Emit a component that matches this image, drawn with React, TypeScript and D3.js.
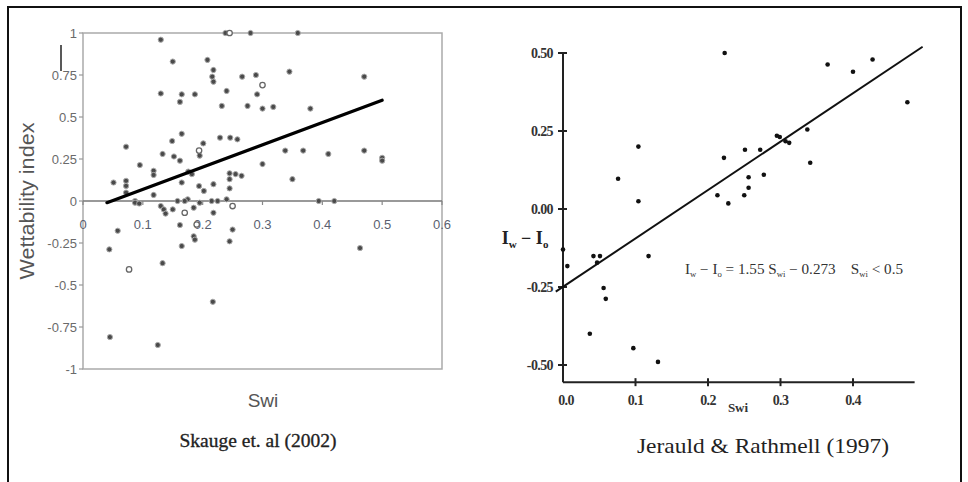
import React from "react";
import * as d3 from "d3";

// ---------- Left chart data (Skauge et al. 2002) ----------
const leftFilledSwi = [0.13,0.238,0.28,0.359,0.15,0.208,0.218,0.216,0.218,0.266,0.289,0.345,0.47,0.13,0.165,0.162,0.187,0.24,0.232,0.291,0.275,0.30,0.318,0.38,0.165,0.149,0.229,0.246,0.258,0.072,0.201,0.338,0.368,0.47,0.41,0.50,0.50,0.133,0.195,0.152,0.162,0.30,0.095,0.118,0.118,0.176,0.182,0.245,0.255,0.265,0.35,0.051,0.072,0.072,0.165,0.245,0.245,0.118,0.072,0.087,0.087,0.094,0.13,0.135,0.138,0.15,0.158,0.175,0.185,0.195,0.215,0.225,0.218,0.24,0.394,0.42,0.058,0.162,0.25,0.165,0.185,0.187,0.245,0.044,0.463,0.133,0.217,0.045,0.125,0.194,0.202,0.218,0.17];
const leftFilledWI = [0.96,1.0,1.0,1.0,0.83,0.84,0.78,0.74,0.71,0.74,0.75,0.77,0.74,0.64,0.635,0.59,0.635,0.655,0.566,0.635,0.566,0.55,0.56,0.55,0.40,0.357,0.377,0.377,0.367,0.323,0.343,0.30,0.30,0.30,0.28,0.257,0.24,0.28,0.27,0.265,0.24,0.22,0.214,0.18,0.155,0.175,0.16,0.165,0.16,0.15,0.13,0.11,0.12,0.09,0.11,0.13,0.075,0.036,0.05,0.0,-0.01,-0.015,-0.03,-0.05,-0.075,-0.05,0.0,0.01,-0.04,-0.01,0.0,0.0,-0.07,0.01,0.0,0.0,-0.177,-0.143,-0.17,-0.268,-0.21,-0.23,-0.24,-0.288,-0.28,-0.37,-0.60,-0.81,-0.857,0.089,0.06,0.1,0.0];
const leftHollowSwi = [0.245,0.30,0.194,0.17,0.25,0.19,0.077];
const leftHollowWI = [1.0,0.69,0.30,-0.07,-0.03,-0.14,-0.407];
const leftFitSwi = [0.04, 0.5];
const leftFitWI = [-0.01, 0.6];
const leftYTicks = [-1,-0.75,-0.5,-0.25,0,0.25,0.5,0.75,1];
const leftYTickLabels = ["-1","-0.75","-0.5","-0.25","0","0.25","0.5","0.75","1"];
const leftXTicks = [0,0.1,0.2,0.3,0.4,0.5,0.6];
const leftXTickLabels = ["0","0.1","0.2","0.3","0.4","0.5","0.6"];

// ---------- Right chart data (Jerauld & Rathmell 1997) ----------
const rightSwi = [0.223,0.104,0.076,0.104,0.222,0.213,0.228,0.0,0.006,0.042,0.051,0.047,0.118,0.056,0.059,0.037,0.097,0.131,0.365,0.40,0.427,0.475,0.251,0.272,0.295,0.299,0.307,0.312,0.337,0.341,0.277,0.256,0.256,0.25];
const rightIwIo = [0.50,0.20,0.097,0.025,0.164,0.044,0.018,-0.13,-0.183,-0.151,-0.151,-0.172,-0.151,-0.253,-0.288,-0.40,-0.446,-0.49,0.463,0.44,0.479,0.342,0.19,0.19,0.235,0.231,0.217,0.212,0.255,0.148,0.11,0.102,0.068,0.044];
const rightFitSwi = [-0.01, 0.496];
const rightFitIwIo = [-0.265, 0.52];
const rightYTicks = [0.5,0.25,0,-0.25,-0.5];
const rightYTickLabels = ["0.50","0.25","0.00","-0.25","-0.50"];
const rightXTicks = [0,0.1,0.2,0.3,0.4];
const rightXTickLabels = ["0.0","0.1","0.2","0.3","0.4"];

export default function App() {
  // left scales
  const xL = d3.scaleLinear().domain([0, 0.6]).range([83, 442]);
  const yL = d3.scaleLinear().domain([-1, 1]).range([369, 33]);
  // right scales
  const xR = d3.scaleLinear().domain([0, 0.5]).range([563, 925.5]);
  const yR = d3.scaleLinear().domain([-0.5, 0.5]).range([365, 53]);

  const line = d3.line<[number, number]>();
  const leftFit = line(leftFitSwi.map((s, i) => [xL(s), yL(leftFitWI[i])] as [number, number]));
  const rightFit = line(rightFitSwi.map((s, i) => [xR(s), yR(rightFitIwIo[i])] as [number, number]));

  const sans = "'Liberation Sans', Arial, sans-serif";
  const serif = "'Liberation Serif', 'Times New Roman', serif";
  const rYMin = -0.555;
  const rXMax = 0.485;
  const sp = "\u00A0";

  return (
    <svg width={968} height={482} style={{ position: "absolute", left: 0, top: 0, background: "#fff" }}>
      <rect x={0} y={0} width={968} height={482} fill="#fff" />
      <rect x={8} y={7} width={953} height={490} fill="none" stroke="#111" strokeWidth={2} />

      {/* ---------- LEFT CHART ---------- */}
      <rect x={xL(0)} y={yL(1)} width={xL(0.6) - xL(0)} height={yL(-1) - yL(1)} fill="none" stroke="#aaa" strokeWidth={1.5} />
      <line x1={xL(0)} x2={xL(0.6)} y1={yL(0)} y2={yL(0)} stroke="#777" strokeWidth={1.5} />
      {leftYTicks.map((t, i) => (
        <g key={"ly" + i}>
          <line x1={xL(0) - 4} x2={xL(0)} y1={yL(t)} y2={yL(t)} stroke="#999" strokeWidth={1.2} />
          <text x={xL(0) - 6} y={yL(t) + 4.5} textAnchor="end" fontFamily={sans} fontSize={13} fill="#6a6a6a">{leftYTickLabels[i]}</text>
        </g>
      ))}
      {leftXTicks.map((t, i) => (
        <g key={"lx" + i}>
          <line x1={xL(t)} x2={xL(t)} y1={yL(0)} y2={yL(0) + 4} stroke="#888" strokeWidth={1.2} />
          <text x={xL(t)} y={yL(0) + 28} textAnchor="middle" fontFamily={sans} fontSize={13} fill="#5a5f70">{leftXTickLabels[i]}</text>
        </g>
      ))}
      <line x1={61} x2={61} y1={45} y2={71} stroke="#222" strokeWidth={1.5} />
      {leftFilledSwi.map((s, i) => (
        <circle key={"lf" + i} cx={xL(s)} cy={yL(leftFilledWI[i])} r={2.6} fill="#4a4a4a" stroke="#aaa" strokeWidth={1} />
      ))}
      {leftHollowSwi.map((s, i) => (
        <circle key={"lh" + i} cx={xL(s)} cy={yL(leftHollowWI[i])} r={2.7} fill="#fff" stroke="#666" strokeWidth={1.3} />
      ))}
      <path d={leftFit || ""} stroke="#000" strokeWidth={3.2} fill="none" strokeLinecap="round" />
      <text transform={`translate(34,201) rotate(-90)`} textAnchor="middle" fontFamily={sans} fontSize={20} fill="#555" textLength={157} lengthAdjust="spacingAndGlyphs">Wettability index</text>
      <text x={263} y={407} textAnchor="middle" fontFamily={sans} fontSize={19} fill="#555">Swi</text>
      <text x={258} y={447} textAnchor="middle" fontFamily={serif} fontSize={18} fill="#222" stroke="#222" strokeWidth={0.3} textLength={157} lengthAdjust="spacingAndGlyphs">Skauge et. al (2002)</text>

      {/* ---------- RIGHT CHART ---------- */}
      <line x1={xR(0)} x2={xR(0)} y1={yR(0.5) - 1} y2={yR(rYMin)} stroke="#222" strokeWidth={2} />
      <line x1={xR(0)} x2={xR(rXMax)} y1={yR(rYMin)} y2={yR(rYMin)} stroke="#222" strokeWidth={2} />
      {rightYTicks.map((t, i) => (
        <g key={"ry" + i}>
          <line x1={xR(0) - 5} x2={xR(0) + 4} y1={yR(t)} y2={yR(t)} stroke="#222" strokeWidth={2} />
          <text x={xR(0) - 10} y={yR(t) + 5} textAnchor="end" fontFamily={serif} fontWeight="bold" fontSize={14} fill="#333" letterSpacing={-0.6}>{rightYTickLabels[i]}</text>
        </g>
      ))}
      {rightXTicks.map((t, i) => (
        <g key={"rx" + i}>
          {i > 0 && <line x1={xR(t)} x2={xR(t)} y1={yR(rYMin) - 4} y2={yR(rYMin) + 4} stroke="#222" strokeWidth={2} />}
          <text x={xR(t) + (i === 0 ? 3 : 0)} y={yR(rYMin) + 23} textAnchor="middle" fontFamily={serif} fontWeight="bold" fontSize={14} fill="#333" letterSpacing={-0.6}>{rightXTickLabels[i]}</text>
        </g>
      ))}
      <path d={rightFit || ""} stroke="#111" strokeWidth={2} fill="none" />
      {rightSwi.map((s, i) => (
        <circle key={"rp" + i} cx={xR(s)} cy={yR(rightIwIo[i])} r={2.3} fill="#111" />
      ))}
      <text x={738} y={412} textAnchor="middle" fontFamily={serif} fontWeight="bold" fontSize={13} fill="#333">Swi</text>
      <text x={525} y={244} textAnchor="middle" fontFamily={serif} fontWeight="bold" fontSize={18} fill="#222">
        I<tspan fontSize={11} dy={4}>w</tspan><tspan dy={-4}>{sp}−{sp}I</tspan><tspan fontSize={11} dy={4}>o</tspan>
      </text>
      <text x={685} y={274} fontFamily={serif} fontSize={14} fill="#333" textLength={218} lengthAdjust="spacingAndGlyphs">
        I<tspan fontSize={8} dy={3}>w</tspan><tspan dy={-3}>{sp}−{sp}I</tspan><tspan fontSize={8} dy={3}>o</tspan><tspan dy={-3}>{sp}={sp}1.55{sp}S</tspan><tspan fontSize={8} dy={3}>wi</tspan><tspan dy={-3}>{sp}−{sp}0.273{sp}{sp}{sp}{sp}S</tspan><tspan fontSize={8} dy={3}>wi</tspan><tspan dy={-3}>{sp}&lt;{sp}0.5</tspan>
      </text>
      <text x={763} y={453} textAnchor="middle" fontFamily={serif} fontSize={21} fill="#222" textLength={252} lengthAdjust="spacingAndGlyphs">Jerauld &amp; Rathmell (1997)</text>
    </svg>
  );
}
